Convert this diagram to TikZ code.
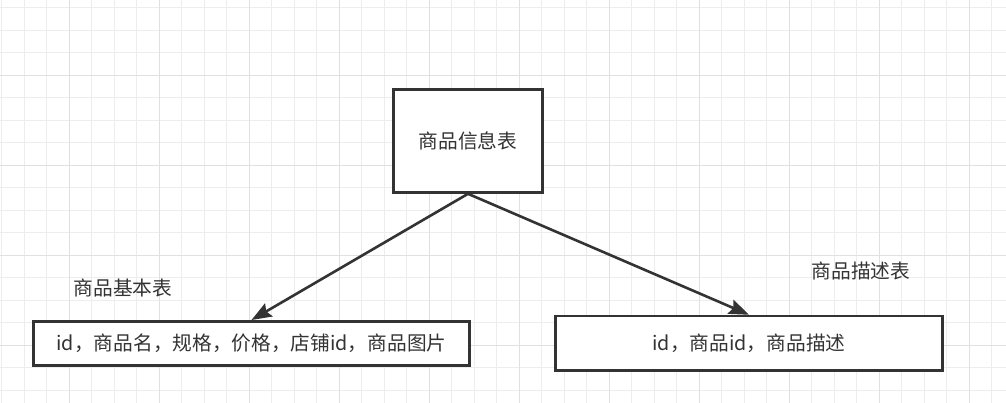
\documentclass[tikz,border=0pt]{standalone}
\usepackage{fontspec}
\setmainfont{Noto Sans CJK SC}
\usetikzlibrary{arrows.meta}
\definecolor{ink}{HTML}{333333}
\definecolor{gridminor}{HTML}{EDEDED}
\definecolor{gridmajor}{HTML}{E0E0E0}
\tikzset{
  tbox/.style={draw=ink, line width=2.6pt, fill=white, inner sep=0pt, font=\fontsize{19.7}{23}\selectfont, text=ink},
  plainlabel/.style={inner sep=0pt, font=\fontsize{19.7}{23}\selectfont, text=ink},
  conn/.style={draw=ink, line width=2.6pt, -{Stealth[length=20pt,width=15pt,inset=3pt]}, shorten >=0pt},
}
\begin{document}
\begin{tikzpicture}[x=1pt,y=-1pt]
\useasboundingbox (0,0) rectangle (1006,403);
\fill[white] (0,0) rectangle (1006,403);
% grid
\foreach \k in {0,...,44} {
  \draw[gridminor, line width=1.1pt] ({1.8+22.5*\k},0) -- ({1.8+22.5*\k},403);
}
\foreach \k in {0,...,17} {
  \draw[gridminor, line width=1.1pt] (0,{7.8+22.5*\k}) -- (1006,{7.8+22.5*\k});
}
\foreach \k in {0,...,10} {
  \draw[gridmajor, line width=1.1pt] ({69.3+90*\k},0) -- ({69.3+90*\k},403);
}
\foreach \k in {0,...,3} {
  \draw[gridmajor, line width=1.1pt] (0,{75.3+90*\k}) -- (1006,{75.3+90*\k});
}
% nodes
\node[tbox, minimum width=149.5pt, minimum height=103pt] (info) at (468,141) {商品信息表};
\node[tbox, minimum width=435.7pt, minimum height=44pt] (basic) at (251.5,343.3) {id，商品名，规格，价格，店铺id，商品图片};
\node[tbox, minimum width=387.4pt, minimum height=54.3pt] (desc) at (749,343.2) {id，商品id，商品描述};
\node[plainlabel] (lbasic) at (123,287.5) {商品基本表};
\node[plainlabel] (ldesc) at (861,270.5) {商品描述表};
% connectors
\draw[conn] (info.south) -- (basic.north);
\draw[conn] (info.south) -- (desc.north);
\end{tikzpicture}
\end{document}
